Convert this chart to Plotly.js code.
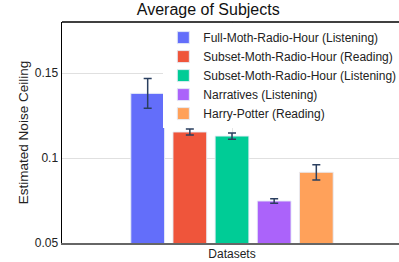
<!DOCTYPE html>
<html><head><meta charset="utf-8">
<script src="https://cdn.plot.ly/plotly-3.0.1.min.js"></script>
<style>html,body{margin:0;padding:0;background:#fff;overflow:hidden;}#wrap{width:399px;height:262px;overflow:hidden;}#chart{width:402px;height:262px;}</style>
</head><body><div id="wrap"><div id="chart"></div></div>
<script>
const category = ["Average"];
const seriesNames = ["Full-Moth-Radio-Hour (Listening)","Subset-Moth-Radio-Hour (Reading)","Subset-Moth-Radio-Hour (Listening)","Narratives (Listening)","Harry-Potter (Reading)"];
const seriesValues = [0.138, 0.1153, 0.1129, 0.0747, 0.0916];
const seriesErrors = [0.0088, 0.0018, 0.0018, 0.0013, 0.0045];
const seriesColors = ["#636efa","#EF553B","#00cc96","#ab63fa","#FFA15A"];
const yTicks = [0.05, 0.1, 0.15];
const yTickText = ["0.05","0.1","0.15"];

const traces = seriesNames.map((n,i)=>({
  type:'bar', name:n, x:category, y:[seriesValues[i]],
  marker:{color:seriesColors[i], line:{color:'rgba(229,236,246,0.9)', width:1}},
  error_y:{type:'data', array:[seriesErrors[i]], visible:true, color:'#2a3f5f', thickness:1.5, width:4}
}));

const layout = {
  width:402, height:262,
  margin:{l:62, r:0, t:22, b:19},
  font:{family:'"Liberation Sans", Arial, sans-serif', color:'#222', size:12},
  title:{text:'Average of Subjects', x:0.518, xanchor:'center', y:0.985, yanchor:'top', font:{size:16, color:'#111'}},
  paper_bgcolor:'#fff', plot_bgcolor:'#fff',
  barmode:'group', bargap:0.38, bargroupgap:0.2,
  showlegend:true,
  legend:{x:0.298, y:0.995, xanchor:'left', yanchor:'top', bgcolor:'#fff', font:{size:12, color:'#222'}, tracegroupgap:0, itemwidth:30},
  xaxis:{showticklabels:false, ticks:'', showgrid:true, gridcolor:'#e5e5e5', showline:true, linecolor:'#666', linewidth:2,
    title:{text:'Datasets', standoff:6, font:{size:12, color:'#222'}}},
  yaxis:{range:[0.05,0.18], tickvals:yTicks, ticktext:yTickText, showgrid:true, gridcolor:'#e0e0e0', zeroline:false,
    showline:true, linecolor:'#000', linewidth:1.5, ticks:'', tickfont:{size:12, color:'#222'},
    title:{text:'Estimated Noise Ceiling', standoff:3, font:{size:13.5, color:'#222'}}},
  shapes:[{type:'line', xref:'paper', yref:'paper', x0:0, x1:1, y0:1, y1:1, line:{color:'#000', width:1.5}}]
};
Plotly.newPlot('chart', traces, layout, {displayModeBar:false, staticPlot:true});
</script></body></html>
